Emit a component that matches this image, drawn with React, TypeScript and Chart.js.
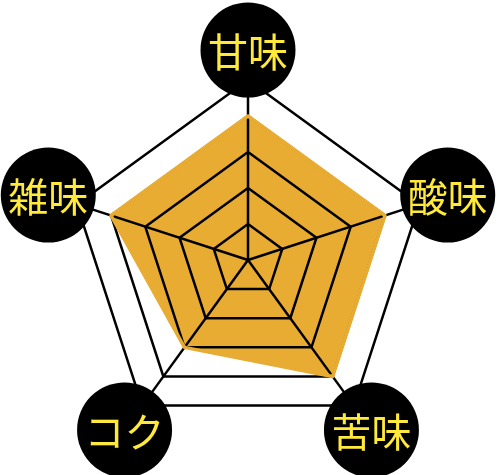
import { useEffect, useRef } from "react"
import { Chart, registerables } from "chart.js"

Chart.register(...registerables)

const labels = ["甘味", "酸味", "苦味", "コク", "雑味"]
const values = [4, 4, 4, 3, 4]
const scaleMax = 5

const fillColor = "#E9AC33"
const labelTextColor = "#FFE93B"

// redraws the fill edge over the grid, then the round black labels
const labelCircles = {
  id: "labelCircles",
  afterDraw(chart: Chart) {
    const ctx = chart.ctx
    const scale: any = chart.scales.r
    const meta = chart.getDatasetMeta(0)

    ctx.save()
    ctx.strokeStyle = fillColor
    ctx.lineWidth = 3.5
    ctx.lineJoin = "round"
    ctx.beginPath()
    meta.data.forEach((pt: any, i: number) => {
      if (i === 0) ctx.moveTo(pt.x, pt.y)
      else ctx.lineTo(pt.x, pt.y)
    })
    ctx.closePath()
    ctx.stroke()
    ctx.restore()

    ctx.save()
    labels.forEach((label, i) => {
      const p = scale.getPointPosition(i, scale.drawingArea + 30)
      ctx.beginPath()
      ctx.arc(p.x, p.y, 47.5, 0, Math.PI * 2)
      ctx.fillStyle = "#000"
      ctx.fill()
      ctx.fillStyle = labelTextColor
      ctx.font = '40px "Noto Sans CJK JP"'
      ctx.textAlign = "center"
      ctx.textBaseline = "middle"
      ctx.fillText(label, p.x, p.y + 2)
    })
    ctx.restore()
  },
}

export default function App() {
  const chartRef = useRef<HTMLCanvasElement>(null)
  const chartInstance = useRef<Chart | null>(null)

  useEffect(() => {
    if (!chartRef.current) return

    if (chartInstance.current) {
      chartInstance.current.destroy()
    }

    const ctx = chartRef.current.getContext("2d")
    if (!ctx) return

    chartInstance.current = new Chart(ctx, {
      type: "radar",
      data: {
        labels: labels,
        datasets: [
          {
            data: values,
            backgroundColor: fillColor,
            borderWidth: 0,
            pointRadius: 0,
          },
        ],
      },
      options: {
        responsive: true,
        maintainAspectRatio: false,
        animation: false,
        layout: {
          padding: { left: 68, right: 72, top: 80, bottom: 35 },
        },
        plugins: {
          legend: { display: false },
          tooltip: { enabled: false },
        },
        scales: {
          r: {
            min: 0,
            max: scaleMax,
            ticks: { display: false, stepSize: 1 },
            grid: { color: "#000", lineWidth: 2.5, z: 1 },
            angleLines: { color: "#000", lineWidth: 2.5 },
            pointLabels: { display: false },
          },
        },
      },
      plugins: [labelCircles],
    })

    return () => {
      if (chartInstance.current) {
        chartInstance.current.destroy()
      }
    }
  }, [])

  return (
    <div style={{ position: "absolute", left: 0, top: 0, width: 500, height: 475, background: "#fff" }}>
      <canvas ref={chartRef}></canvas>
    </div>
  )
}
